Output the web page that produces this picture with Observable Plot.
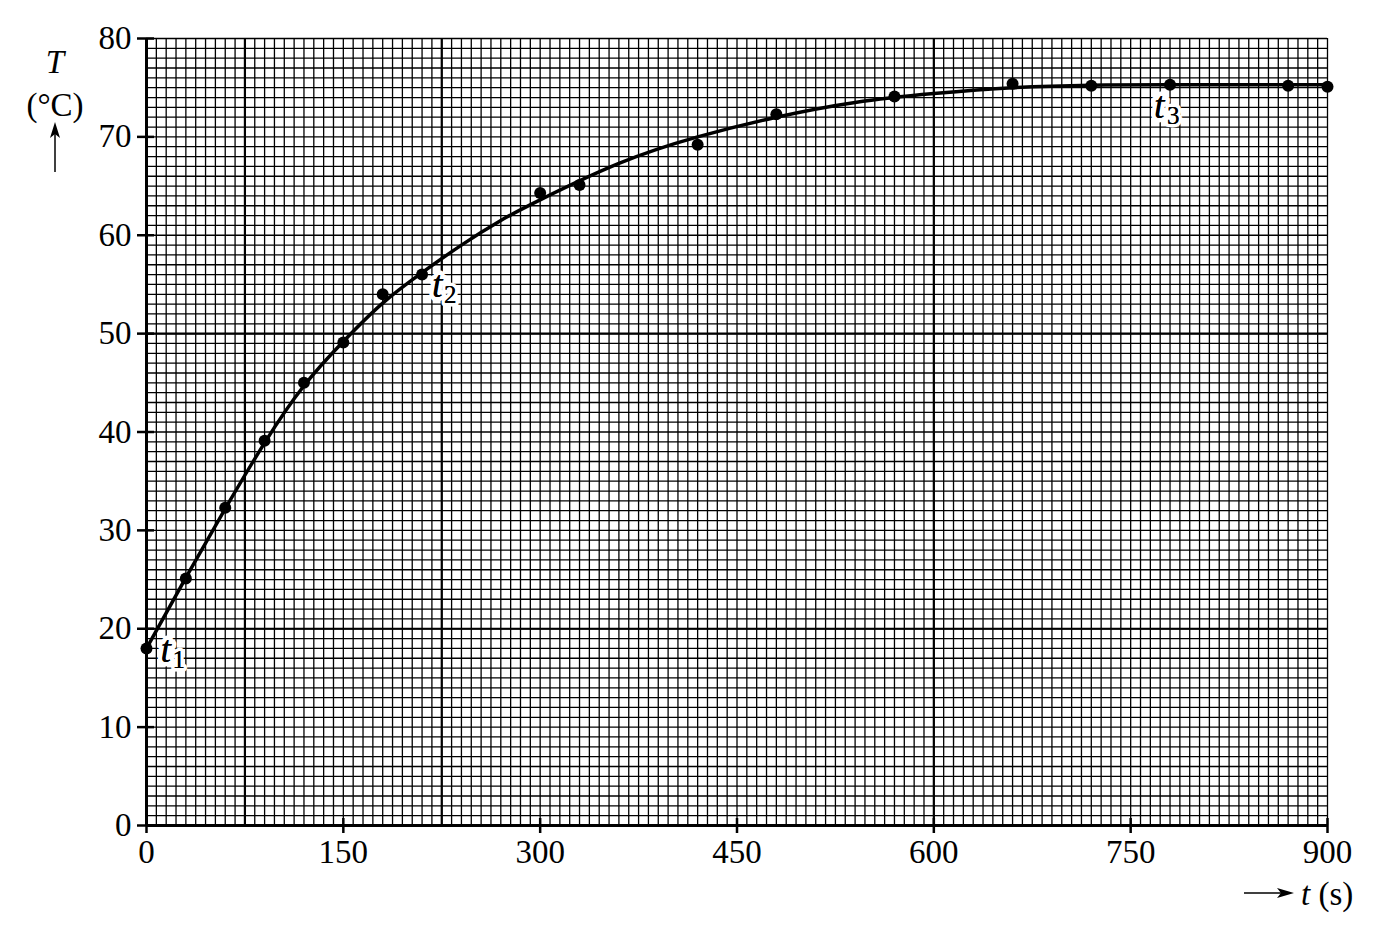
<!DOCTYPE html>
<html>
<head>
<meta charset="utf-8">
<script src="https://cdn.jsdelivr.net/npm/d3@7"></script>
<script src="https://cdn.jsdelivr.net/npm/@observablehq/plot@0.6"></script>
<style>
  html, body { margin: 0; padding: 0; background: white; }
  #chart svg { display: block; }
</style>
</head>
<body>
<div id="chart"></div>
<script>
// Measured points: time t (s) and temperature T (°C)
const timeS = [0, 30, 60, 90, 120, 150, 180, 210, 300, 330, 420, 480, 570, 660, 720, 780, 870, 900];
const tempC = [18, 25.1, 32.3, 39.1, 45, 49.1, 54, 56, 64.3, 65.1, 69.2, 72.3, 74.1, 75.4, 75.2, 75.3, 75.2, 75.1];

// Hand-drawn best-fit curve
const curveTime = [0, 30, 60, 90, 120, 150, 180, 210, 240, 270, 300, 360, 420, 480, 540, 600, 660, 720, 780, 900];
const curveTemp = [18, 25.2, 32.2, 38.9, 44.7, 49.2, 53.1, 56.2, 59.0, 61.5, 63.6, 67.3, 70.0, 72.0, 73.5, 74.4, 75.0, 75.25, 75.3, 75.3];

// Axis ticks
const xTicks = [0, 150, 300, 450, 600, 750, 900];
const yTicks = [0, 10, 20, 30, 40, 50, 60, 70, 80];

// Graph-paper grid
const gridStepT = 7.5;
const gridStepTemp = 1;
const gridT = d3.range(0, 900 + 1e-9, gridStepT);
const gridTemp = d3.range(0, 80 + 1e-9, gridStepTemp);

// Heavier construction lines
const guideTimes = [75, 225, 600];
const guideTemps = [20, 50];

// Annotations t1, t2, t3
const labelNames = ["1", "2", "3"];
const labelTime = [0, 210, 780];
const labelTemp = [18, 56, 75.3];

const points = timeS.map((t, i) => ({t, T: tempC[i]}));
const curve = curveTime.map((t, i) => ({t, T: curveTemp[i]}));
const labels = labelNames.map((n, i) => ({n, t: labelTime[i], T: labelTemp[i]}));

const labelOffsets = [
  {dx: 14, dy: 14, sdx: 26, sdy: 20},
  {dx: 10, dy: 22, sdx: 22, sdy: 28},
  {dx: -16, dy: 33, sdx: -3, sdy: 39}
];

const serif = "'Liberation Serif', 'DejaVu Serif', serif";

const labelMarks = labels.flatMap((d, i) => {
  const o = labelOffsets[i];
  const tOpts = {x: "t", y: "T", text: () => "t", dx: o.dx, dy: o.dy, textAnchor: "start", lineAnchor: "bottom",
    fontSize: 38, fontStyle: "italic", fontFamily: serif, fill: "black"};
  const sOpts = {x: "t", y: "T", text: "n", dx: o.sdx, dy: o.sdy, textAnchor: "start", lineAnchor: "bottom",
    fontSize: 25, fontFamily: serif, fill: "black"};
  return [
    Plot.text([d], {...tOpts, stroke: "white", strokeWidth: 9, paintOrder: "stroke"}),
    Plot.text([d], {...sOpts, stroke: "white", strokeWidth: 7, paintOrder: "stroke"}),
    Plot.text([d], tOpts),
    Plot.text([d], sOpts)
  ];
});

const svg = Plot.plot({
  width: 1381,
  height: 934,
  marginLeft: 146,
  marginRight: 54,
  marginTop: 38,
  marginBottom: 109,
  x: {type: "linear", domain: [0, 900]},
  y: {type: "linear", domain: [0, 80]},
  style: {fontFamily: serif, fontSize: "33px", color: "black", background: "white"},
  marks: [
    Plot.ruleX(gridT, {stroke: "black", strokeWidth: 1.3}),
    Plot.ruleY(gridTemp, {stroke: "black", strokeWidth: 1.3}),
    Plot.ruleX(guideTimes, {stroke: "black", strokeWidth: 2.2}),
    Plot.ruleY(guideTemps, {stroke: "black", strokeWidth: 2.2}),
    Plot.axisX({ticks: xTicks, tickSize: 15, tickPadding: 6, dy: -7, tickFormat: d3.format("d"), label: null, strokeWidth: 2.5, fontSize: 33}),
    Plot.axisY({ticks: yTicks, tickSize: 17, tickPadding: 6, dx: 8, tickFormat: d3.format("d"), label: null, strokeWidth: 2.5, fontSize: 33}),
    Plot.ruleX([0], {stroke: "black", strokeWidth: 3}),
    Plot.ruleY([0], {stroke: "black", strokeWidth: 3}),
    Plot.line(curve, {x: "t", y: "T", curve: "natural", stroke: "black", strokeWidth: 3.5}),
    Plot.dot(points, {x: "t", y: "T", r: 6, fill: "black", stroke: "none"}),
    ...labelMarks
  ]
});

const s = d3.select(svg);
// y axis label
s.append("text").attr("x", 55).attr("y", 73).attr("text-anchor", "middle")
  .attr("font-family", serif).attr("font-size", 33).attr("font-style", "italic").text("T");
s.append("text").attr("x", 55).attr("y", 116).attr("text-anchor", "middle")
  .attr("font-family", serif).attr("font-size", 33).text("(°C)");
s.append("line").attr("x1", 55).attr("y1", 172).attr("x2", 55).attr("y2", 130)
  .attr("stroke", "black").attr("stroke-width", 1.5);
s.append("path").attr("d", "M55,122 L60,138 L55,134 L50,138 Z").attr("fill", "black");
// x axis label
s.append("line").attr("x1", 1244).attr("y1", 893).attr("x2", 1285).attr("y2", 893)
  .attr("stroke", "black").attr("stroke-width", 1.5);
s.append("path").attr("d", "M1294,893 L1277,888 L1281,893 L1277,898 Z").attr("fill", "black");
const xl = s.append("text").attr("x", 1301).attr("y", 905).attr("text-anchor", "start")
  .attr("font-family", serif).attr("font-size", 33).attr("xml:space", "preserve");
xl.append("tspan").attr("font-style", "italic").text("t");
xl.append("tspan").text(" (s)");

document.getElementById("chart").appendChild(svg);
</script>
</body>
</html>
